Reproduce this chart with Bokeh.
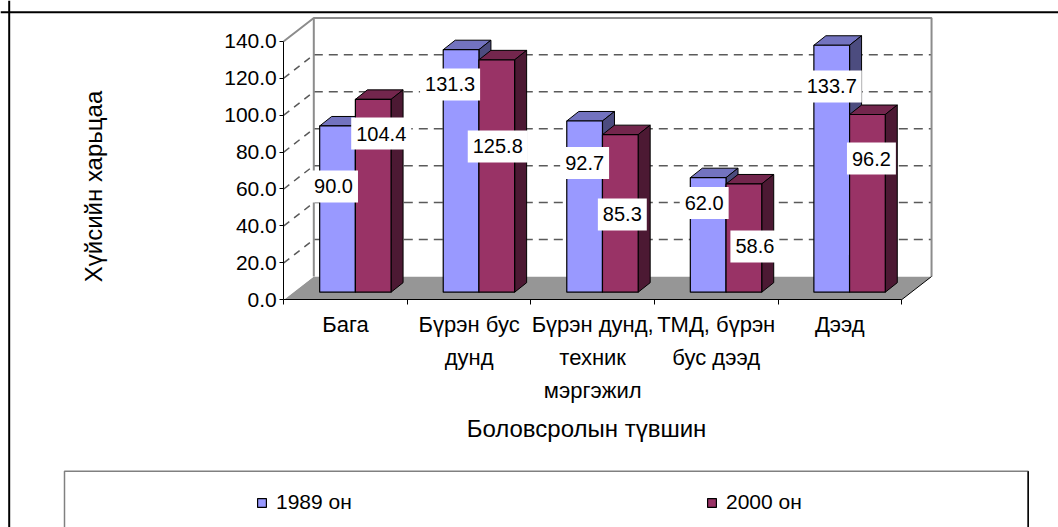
from bokeh.plotting import figure
from bokeh.models import (Range1d, LinearAxis, FixedTicker, PrintfTickFormatter,
                          Span, Label, Legend, LegendItem)
from bokeh.embed import file_html
from bokeh.resources import INLINE

# ---------------- data ----------------
categories = ["Бага", "Бүрэн бус\nдунд", "Бүрэн дунд,\nтехник\nмэргэжил",
              "ТМД, бүрэн\nбус дээд", "Дээд"]
series_names = ["1989 он", "2000 он"]
values_1989 = [90.0, 131.3, 92.7, 62.0, 133.7]
values_2000 = [104.4, 125.8, 85.3, 58.6, 96.2]
y_ticks = [0, 20, 40, 60, 80, 100, 120, 140]
x_title = "Боловсролын түвшин"
y_title = "Хүйсийн харьцаа"

# data-label placement (value units / pixel nudges)
label_y_1989 = [61.4, 116.6, 74.1, 52.4, 115.5]
label_y_2000 = [90.0, 83.0, 46.2, 28.9, 76.5]
label_dx_1989 = [-4, -11, 0, -4, 0]
label_dx_2000 = [8, 1, 2, 11, 4]

# ---------------- geometry ----------------
W, H = 1058, 527
X0, KX = 283.3, 123.55     # px of x=0 ; px per category
Y0, KY = 299.3, 1.847      # px of y=0 ; px per value unit
FONT = "Liberation Sans"

def dxu(px): return px / KX
def dyu(px): return px / KY
def cx(px): return (px - X0) / KX
def cy(py): return (Y0 - py) / KY

n = len(categories)
y_max = y_ticks[-1]
wall_dx, wall_dy = dxu(30), dyu(23.3)
bar_base, bar_shift = dyu(7.6), dxu(9.8)
bar_w = dxu(35.7)
bar_ddx, bar_ddy = dxu(12), dyu(9.5)

p = figure(width=W, height=H, x_range=Range1d(cx(0), cx(W)), y_range=Range1d(cy(H), cy(0)),
           min_border=0, toolbar_location=None, output_backend="svg",
           x_axis_type=None, y_axis_type=None, outline_line_color=None,
           background_fill_color="white", border_fill_color="white")

# walls and floor
p.patch([0, n, n + wall_dx, wall_dx], [0, 0, wall_dy, wall_dy],
        fill_color="#969696", line_color=None)
p.patch([0, 0, wall_dx, wall_dx], [0, y_max, y_max + wall_dy, wall_dy],
        fill_color="white", line_color=None)
p.quad(left=[wall_dx], right=[n + wall_dx], bottom=[wall_dy], top=[y_max + wall_dy],
       fill_color="white", line_color=None)

grid_ticks = y_ticks[1:-1]
p.multi_line([[wall_dx, n + wall_dx] for t in grid_ticks],
             [[t + wall_dy, t + wall_dy] for t in grid_ticks],
             line_color="#5a5a5a", line_width=1.5, line_dash="9 6")
p.multi_line([[0, wall_dx] for t in grid_ticks],
             [[t, t + wall_dy] for t in grid_ticks],
             line_color="#5a5a5a", line_width=1.5, line_dash="7 6")
# wall edges
p.line([0, wall_dx, n + wall_dx, n + wall_dx],
       [y_max, y_max + wall_dy, y_max + wall_dy, wall_dy],
       line_color="#8c8c8c", line_width=2)
p.line([wall_dx, wall_dx], [wall_dy, y_max + wall_dy], line_color="#8c8c8c", line_width=2)
p.line([n, n + wall_dx], [0, wall_dy], line_color="black", line_width=1)

# bars
styles = [("#9999FF", "#7373BF", "#4C4C7F"), ("#993366", "#73264D", "#4C1933")]
fronts = []
for s, vals in enumerate([values_1989, values_2000]):
    front, top, side = styles[s]
    lefts = [i + 0.5 + bar_shift + (s - 1) * bar_w for i in range(n)]
    rights = [l + bar_w for l in lefts]
    tops = [bar_base + v for v in vals]
    p.patches([[l, r, r + bar_ddx, l + bar_ddx] for l, r in zip(lefts, rights)],
              [[t, t, t + bar_ddy, t + bar_ddy] for t in tops],
              fill_color=top, line_color="black", line_width=1)
    p.patches([[r, r + bar_ddx, r + bar_ddx, r] for r in rights],
              [[bar_base, bar_base + bar_ddy, t + bar_ddy, t] for t in tops],
              fill_color=side, line_color="black", line_width=1)
    fr = p.quad(left=lefts, right=rights, bottom=[bar_base] * n, top=tops,
                fill_color=front, line_color="black", line_width=1.2)
    fronts.append(fr)

# data labels
for s, (vals, ly, ldx) in enumerate([(values_1989, label_y_1989, label_dx_1989),
                                     (values_2000, label_y_2000, label_dx_2000)]):
    for i, v in enumerate(vals):
        xc = i + 0.5 + bar_shift + (s - 0.5) * bar_w
        p.add_layout(Label(x=xc, y=ly[i], x_offset=ldx[i], text=f"{v:.1f}",
                           text_align="center", text_baseline="middle",
                           text_font=FONT, text_font_size="20px", text_color="black",
                           background_fill_color="white", padding=(5, 9)))

# axes
yaxis = LinearAxis(fixed_location=0, bounds=(0, y_max), ticker=FixedTicker(ticks=y_ticks),
                   formatter=PrintfTickFormatter(format="%.1f"),
                   major_tick_out=4, major_tick_in=0, minor_tick_line_color=None,
                   major_label_standoff=3, major_label_text_font=FONT,
                   major_label_text_font_size="21px", major_label_text_color="black",
                   axis_line_color="black", major_tick_line_color="black")
p.add_layout(yaxis, "left")

centers = [i + 0.5 for i in range(n)]
xaxis = LinearAxis(fixed_location=0, bounds=(0, n),
                   ticker=FixedTicker(ticks=centers, minor_ticks=list(range(n + 1))),
                   major_label_overrides={c: lab for c, lab in zip(centers, categories)},
                   major_tick_line_color=None, major_tick_out=0, major_tick_in=0,
                   minor_tick_out=5, minor_tick_in=0, minor_tick_line_color="black",
                   major_label_standoff=7, major_label_text_font=FONT,
                   major_label_text_font_size="22px", major_label_text_color="black",
                   major_label_text_line_height=1.33, axis_line_color="black")
p.add_layout(xaxis, "below")

# axis titles
p.add_layout(Label(x=cx(93), y=cy(186), text=y_title, angle=1.5708,
                   text_align="center", text_baseline="middle",
                   text_font=FONT, text_font_size="24px", text_color="black"))
p.add_layout(Label(x=cx(586), y=cy(428), text=x_title,
                   text_align="center", text_baseline="middle",
                   text_font=FONT, text_font_size="24px", text_color="black"))

# outer chart border (left and top)
p.add_layout(Span(location=cy(11.7), dimension="width", line_color="black", line_width=2))
p.add_layout(Span(location=cx(8.7), dimension="height", line_color="black", line_width=2))

# legend box
p.quad(left=[cx(64)], right=[cx(1027.7)], top=[cy(470.7)], bottom=[cy(545)],
       fill_color="white", line_color="#808080", line_width=1.5)
p.line([cx(1027.7), cx(1027.7)], [cy(470.7), cy(545)], line_color="black", line_width=1.5)

legend = Legend(items=[LegendItem(label=series_names[0], renderers=[fronts[0]]),
                       LegendItem(label=series_names[1], renderers=[fronts[1]])],
                location=(256, 13), orientation="horizontal", padding=0, margin=0,
                spacing=330, label_width=100, glyph_width=11, glyph_height=11,
                label_standoff=9, label_text_font=FONT, label_text_font_size="21px",
                label_text_color="black", border_line_color=None, background_fill_alpha=0)
p.add_layout(legend, "center")

open("out.html", "w").write(file_html(p, INLINE))
